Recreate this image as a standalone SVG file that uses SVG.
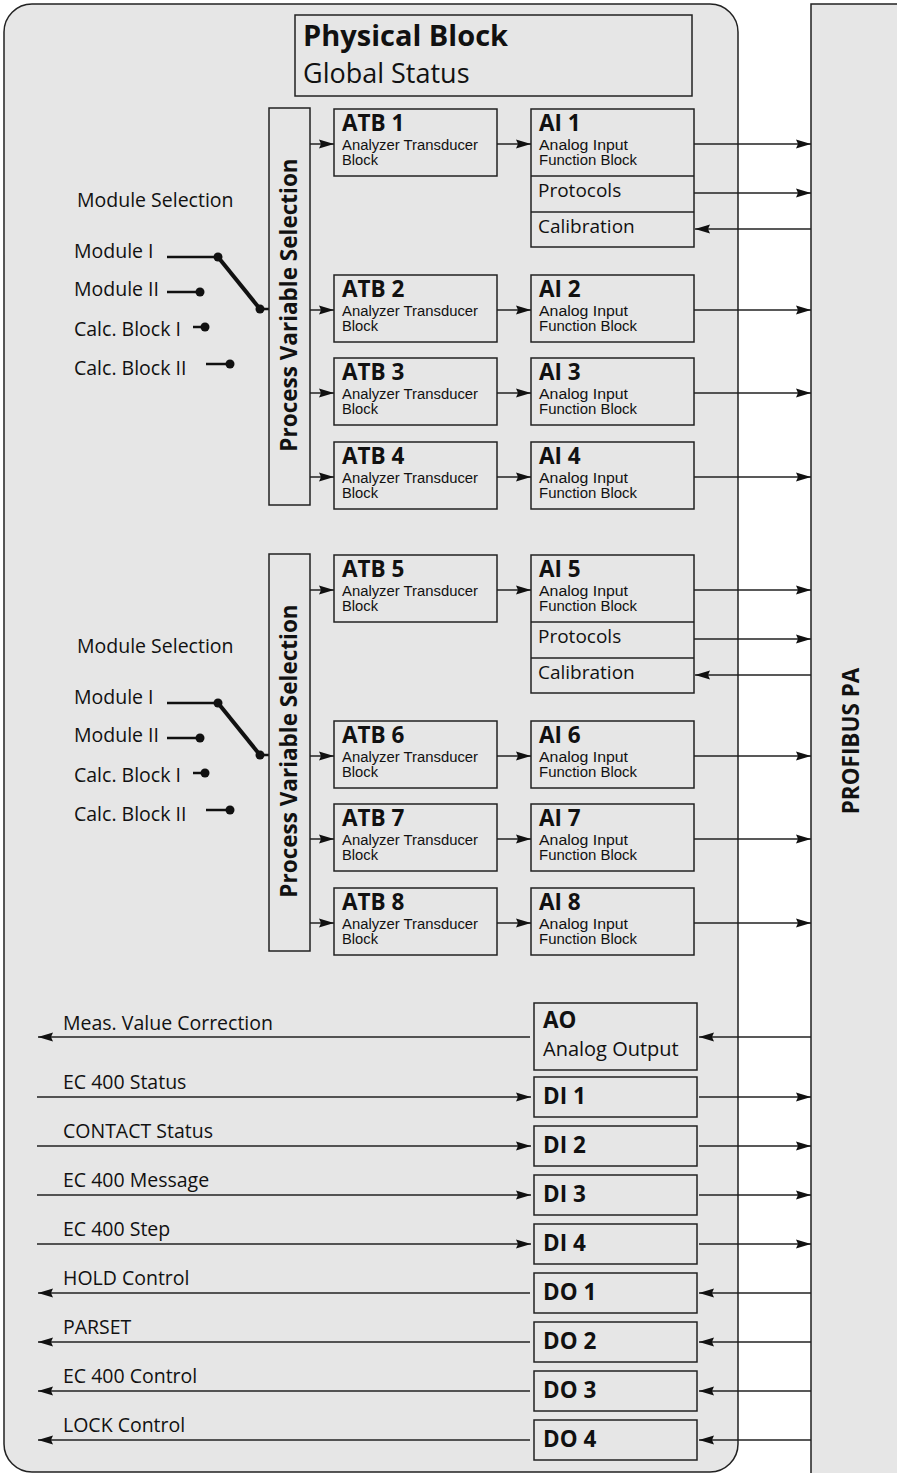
<svg xmlns="http://www.w3.org/2000/svg" width="897" height="1473" viewBox="0 0 897 1473">
<defs>
<marker id="ah" markerUnits="userSpaceOnUse" markerWidth="15" markerHeight="10" refX="15" refY="5" orient="auto">
<path d="M0,0.5 L15,5 L0,9.5 L2,5 z" fill="#111"/>
</marker>
<style>
.box{fill:#e6e6e6;stroke:#222;stroke-width:1.5}
.ln{stroke:#222;stroke-width:1.5;fill:none}
.arr{stroke:#222;stroke-width:1.5;fill:none;marker-end:url(#ah)}
.sw{stroke:#111;stroke-width:2.5;fill:none}
.dot{fill:#111}
text{font-family:"Open Sans","Noto Sans",sans-serif;fill:#111}
.t{font-size:22.5px;font-weight:bold}
.s{font-family:"Liberation Sans",Arial,sans-serif;font-size:14px}
.m{font-size:19.5px}
.p{font-size:19px}
.v{font-size:22.5px;font-weight:bold}
</style>
</defs>
<rect width="897" height="1473" fill="#fff"/>
<g id="profibus">
<rect x="811" y="4" width="100" height="1480" class="box"/>
<text class="v" transform="translate(859,741) rotate(-90)" text-anchor="middle">PROFIBUS PA</text>
</g>
<g id="device">
<path d="M32,4 H710 A28,28 0 0 1 738,32 V1444 A28,28 0 0 1 710,1472 H32 A28,28 0 0 1 4,1444 V32 A28,28 0 0 1 32,4 z" class="box"/>
</g>
<g id="physical-block">
<rect x="295" y="15" width="397" height="81" class="box"/>
<text x="303" y="46" style="font-size:29px;font-weight:bold">Physical Block</text>
<text x="303" y="83" style="font-size:27px">Global Status</text>
</g>

<g id="selector1">
<text x="77" y="207" class="m">Module Selection</text>
<text x="74" y="258" class="m">Module I</text>
<text x="74" y="296" class="m">Module II</text>
<text x="74" y="336" class="m">Calc. Block I</text>
<text x="74" y="375" class="m">Calc. Block II</text>
<line x1="167" y1="257" x2="218" y2="257" class="sw"/>
<line x1="218" y1="257" x2="260" y2="309" style="stroke:#111;stroke-width:4"/>
<line x1="260" y1="309" x2="269" y2="309" class="sw"/>
<circle cx="218" cy="257" r="4.5" class="dot"/>
<circle cx="260" cy="309" r="4.5" class="dot"/>
<line x1="167" y1="292" x2="200" y2="292" class="sw"/>
<circle cx="200" cy="292" r="4.5" class="dot"/>
<line x1="193" y1="327" x2="205" y2="327" class="sw"/>
<circle cx="205" cy="327" r="4.5" class="dot"/>
<line x1="206" y1="364" x2="230" y2="364" class="sw"/>
<circle cx="230" cy="364" r="4.5" class="dot"/>
</g>
<g id="pvs1">
<rect x="269" y="108" width="41" height="397" class="box"/>
<text class="v" transform="translate(297,305) rotate(-90)" text-anchor="middle">Process Variable Selection</text>
</g>
<g id="atb1"><rect x="334" y="109" width="163" height="67" class="box"/><text x="342" y="131" class="t">ATB 1</text><text x="342" y="149.8" class="s" textLength="136" lengthAdjust="spacingAndGlyphs">Analyzer Transducer</text><text x="342" y="165.4" class="s" textLength="36" lengthAdjust="spacingAndGlyphs">Block</text></g>
<g id="atb2"><rect x="334" y="275" width="163" height="67" class="box"/><text x="342" y="297" class="t">ATB 2</text><text x="342" y="315.8" class="s" textLength="136" lengthAdjust="spacingAndGlyphs">Analyzer Transducer</text><text x="342" y="331.4" class="s" textLength="36" lengthAdjust="spacingAndGlyphs">Block</text></g>
<g id="atb3"><rect x="334" y="358" width="163" height="67" class="box"/><text x="342" y="380" class="t">ATB 3</text><text x="342" y="398.8" class="s" textLength="136" lengthAdjust="spacingAndGlyphs">Analyzer Transducer</text><text x="342" y="414.4" class="s" textLength="36" lengthAdjust="spacingAndGlyphs">Block</text></g>
<g id="atb4"><rect x="334" y="442" width="163" height="67" class="box"/><text x="342" y="464" class="t">ATB 4</text><text x="342" y="482.8" class="s" textLength="136" lengthAdjust="spacingAndGlyphs">Analyzer Transducer</text><text x="342" y="498.4" class="s" textLength="36" lengthAdjust="spacingAndGlyphs">Block</text></g>
<g id="ai1"><rect x="531" y="109" width="163" height="138" class="box"/><line x1="531" y1="176" x2="694" y2="176" class="ln"/><line x1="531" y1="212" x2="694" y2="212" class="ln"/><text x="539" y="131" class="t">AI 1</text><text x="539" y="149.8" class="s" textLength="89" lengthAdjust="spacingAndGlyphs">Analog Input</text><text x="539" y="165.4" class="s" textLength="98" lengthAdjust="spacingAndGlyphs">Function Block</text><text x="538" y="197" class="p">Protocols</text><text x="538" y="233" class="p">Calibration</text></g>
<g id="ai2"><rect x="531" y="275" width="163" height="67" class="box"/><text x="539" y="297" class="t">AI 2</text><text x="539" y="315.8" class="s" textLength="89" lengthAdjust="spacingAndGlyphs">Analog Input</text><text x="539" y="331.4" class="s" textLength="98" lengthAdjust="spacingAndGlyphs">Function Block</text></g>
<g id="ai3"><rect x="531" y="358" width="163" height="67" class="box"/><text x="539" y="380" class="t">AI 3</text><text x="539" y="398.8" class="s" textLength="89" lengthAdjust="spacingAndGlyphs">Analog Input</text><text x="539" y="414.4" class="s" textLength="98" lengthAdjust="spacingAndGlyphs">Function Block</text></g>
<g id="ai4"><rect x="531" y="442" width="163" height="67" class="box"/><text x="539" y="464" class="t">AI 4</text><text x="539" y="482.8" class="s" textLength="89" lengthAdjust="spacingAndGlyphs">Analog Input</text><text x="539" y="498.4" class="s" textLength="98" lengthAdjust="spacingAndGlyphs">Function Block</text></g>

<g id="selector2">
<text x="77" y="653" class="m">Module Selection</text>
<text x="74" y="704" class="m">Module I</text>
<text x="74" y="742" class="m">Module II</text>
<text x="74" y="782" class="m">Calc. Block I</text>
<text x="74" y="821" class="m">Calc. Block II</text>
<line x1="167" y1="703" x2="218" y2="703" class="sw"/>
<line x1="218" y1="703" x2="260" y2="755" style="stroke:#111;stroke-width:4"/>
<line x1="260" y1="755" x2="269" y2="755" class="sw"/>
<circle cx="218" cy="703" r="4.5" class="dot"/>
<circle cx="260" cy="755" r="4.5" class="dot"/>
<line x1="167" y1="738" x2="200" y2="738" class="sw"/>
<circle cx="200" cy="738" r="4.5" class="dot"/>
<line x1="193" y1="773" x2="205" y2="773" class="sw"/>
<circle cx="205" cy="773" r="4.5" class="dot"/>
<line x1="206" y1="810" x2="230" y2="810" class="sw"/>
<circle cx="230" cy="810" r="4.5" class="dot"/>
</g>
<g id="pvs2">
<rect x="269" y="554" width="41" height="397" class="box"/>
<text class="v" transform="translate(297,751) rotate(-90)" text-anchor="middle">Process Variable Selection</text>
</g>
<g id="atb5"><rect x="334" y="555" width="163" height="67" class="box"/><text x="342" y="577" class="t">ATB 5</text><text x="342" y="595.8" class="s" textLength="136" lengthAdjust="spacingAndGlyphs">Analyzer Transducer</text><text x="342" y="611.4" class="s" textLength="36" lengthAdjust="spacingAndGlyphs">Block</text></g>
<g id="atb6"><rect x="334" y="721" width="163" height="67" class="box"/><text x="342" y="743" class="t">ATB 6</text><text x="342" y="761.8" class="s" textLength="136" lengthAdjust="spacingAndGlyphs">Analyzer Transducer</text><text x="342" y="777.4" class="s" textLength="36" lengthAdjust="spacingAndGlyphs">Block</text></g>
<g id="atb7"><rect x="334" y="804" width="163" height="67" class="box"/><text x="342" y="826" class="t">ATB 7</text><text x="342" y="844.8" class="s" textLength="136" lengthAdjust="spacingAndGlyphs">Analyzer Transducer</text><text x="342" y="860.4" class="s" textLength="36" lengthAdjust="spacingAndGlyphs">Block</text></g>
<g id="atb8"><rect x="334" y="888" width="163" height="67" class="box"/><text x="342" y="910" class="t">ATB 8</text><text x="342" y="928.8" class="s" textLength="136" lengthAdjust="spacingAndGlyphs">Analyzer Transducer</text><text x="342" y="944.4" class="s" textLength="36" lengthAdjust="spacingAndGlyphs">Block</text></g>
<g id="ai5"><rect x="531" y="555" width="163" height="138" class="box"/><line x1="531" y1="622" x2="694" y2="622" class="ln"/><line x1="531" y1="658" x2="694" y2="658" class="ln"/><text x="539" y="577" class="t">AI 5</text><text x="539" y="595.8" class="s" textLength="89" lengthAdjust="spacingAndGlyphs">Analog Input</text><text x="539" y="611.4" class="s" textLength="98" lengthAdjust="spacingAndGlyphs">Function Block</text><text x="538" y="643" class="p">Protocols</text><text x="538" y="679" class="p">Calibration</text></g>
<g id="ai6"><rect x="531" y="721" width="163" height="67" class="box"/><text x="539" y="743" class="t">AI 6</text><text x="539" y="761.8" class="s" textLength="89" lengthAdjust="spacingAndGlyphs">Analog Input</text><text x="539" y="777.4" class="s" textLength="98" lengthAdjust="spacingAndGlyphs">Function Block</text></g>
<g id="ai7"><rect x="531" y="804" width="163" height="67" class="box"/><text x="539" y="826" class="t">AI 7</text><text x="539" y="844.8" class="s" textLength="89" lengthAdjust="spacingAndGlyphs">Analog Input</text><text x="539" y="860.4" class="s" textLength="98" lengthAdjust="spacingAndGlyphs">Function Block</text></g>
<g id="ai8"><rect x="531" y="888" width="163" height="67" class="box"/><text x="539" y="910" class="t">AI 8</text><text x="539" y="928.8" class="s" textLength="89" lengthAdjust="spacingAndGlyphs">Analog Input</text><text x="539" y="944.4" class="s" textLength="98" lengthAdjust="spacingAndGlyphs">Function Block</text></g>

<g id="ao"><rect x="534" y="1003" width="163" height="67" class="box"/><text x="543" y="1028" class="t">AO</text><text x="543" y="1056" style="font-size:20px">Analog Output</text></g>
<g id="di1"><rect x="534" y="1077" width="163" height="40" class="box"/><text x="543" y="1104" class="t">DI 1</text></g>
<g id="di2"><rect x="534" y="1126" width="163" height="40" class="box"/><text x="543" y="1153" class="t">DI 2</text></g>
<g id="di3"><rect x="534" y="1175" width="163" height="40" class="box"/><text x="543" y="1202" class="t">DI 3</text></g>
<g id="di4"><rect x="534" y="1224" width="163" height="40" class="box"/><text x="543" y="1251" class="t">DI 4</text></g>
<g id="do1"><rect x="534" y="1273" width="163" height="40" class="box"/><text x="543" y="1300" class="t">DO 1</text></g>
<g id="do2"><rect x="534" y="1322" width="163" height="40" class="box"/><text x="543" y="1349" class="t">DO 2</text></g>
<g id="do3"><rect x="534" y="1371" width="163" height="40" class="box"/><text x="543" y="1398" class="t">DO 3</text></g>
<g id="do4"><rect x="534" y="1420" width="163" height="40" class="box"/><text x="543" y="1447" class="t">DO 4</text></g>

<g id="labels">
<text x="63" y="1030" class="m">Meas. Value Correction</text>
<text x="63" y="1089" class="m">EC 400 Status</text>
<text x="63" y="1138" class="m">CONTACT Status</text>
<text x="63" y="1187" class="m">EC 400 Message</text>
<text x="63" y="1236" class="m">EC 400 Step</text>
<text x="63" y="1285" class="m">HOLD Control</text>
<text x="63" y="1334" class="m">PARSET</text>
<text x="63" y="1383" class="m">EC 400 Control</text>
<text x="63" y="1432" class="m">LOCK Control</text>
</g>

<g id="connectors">
<line x1="310" y1="144" x2="334" y2="144" class="arr"/>
<line x1="310" y1="310" x2="334" y2="310" class="arr"/>
<line x1="310" y1="393" x2="334" y2="393" class="arr"/>
<line x1="310" y1="477" x2="334" y2="477" class="arr"/>
<line x1="497" y1="144" x2="531" y2="144" class="arr"/>
<line x1="497" y1="310" x2="531" y2="310" class="arr"/>
<line x1="497" y1="393" x2="531" y2="393" class="arr"/>
<line x1="497" y1="477" x2="531" y2="477" class="arr"/>
<line x1="694" y1="144" x2="811" y2="144" class="arr"/>
<line x1="694" y1="193" x2="811" y2="193" class="arr"/>
<line x1="811" y1="229" x2="695" y2="229" class="arr"/>
<line x1="694" y1="310" x2="811" y2="310" class="arr"/>
<line x1="694" y1="393" x2="811" y2="393" class="arr"/>
<line x1="694" y1="477" x2="811" y2="477" class="arr"/>

<line x1="310" y1="590" x2="334" y2="590" class="arr"/>
<line x1="310" y1="756" x2="334" y2="756" class="arr"/>
<line x1="310" y1="839" x2="334" y2="839" class="arr"/>
<line x1="310" y1="923" x2="334" y2="923" class="arr"/>
<line x1="497" y1="590" x2="531" y2="590" class="arr"/>
<line x1="497" y1="756" x2="531" y2="756" class="arr"/>
<line x1="497" y1="839" x2="531" y2="839" class="arr"/>
<line x1="497" y1="923" x2="531" y2="923" class="arr"/>
<line x1="694" y1="590" x2="811" y2="590" class="arr"/>
<line x1="694" y1="639" x2="811" y2="639" class="arr"/>
<line x1="811" y1="675" x2="695" y2="675" class="arr"/>
<line x1="694" y1="756" x2="811" y2="756" class="arr"/>
<line x1="694" y1="839" x2="811" y2="839" class="arr"/>
<line x1="694" y1="923" x2="811" y2="923" class="arr"/>

<line x1="811" y1="1037" x2="699" y2="1037" class="arr"/>
<line x1="530" y1="1037" x2="38" y2="1037" class="arr"/>
<line x1="37" y1="1097" x2="531" y2="1097" class="arr"/>
<line x1="699" y1="1097" x2="811" y2="1097" class="arr"/>
<line x1="37" y1="1146" x2="531" y2="1146" class="arr"/>
<line x1="699" y1="1146" x2="811" y2="1146" class="arr"/>
<line x1="37" y1="1195" x2="531" y2="1195" class="arr"/>
<line x1="699" y1="1195" x2="811" y2="1195" class="arr"/>
<line x1="37" y1="1244" x2="531" y2="1244" class="arr"/>
<line x1="699" y1="1244" x2="811" y2="1244" class="arr"/>
<line x1="811" y1="1293" x2="699" y2="1293" class="arr"/>
<line x1="530" y1="1293" x2="38" y2="1293" class="arr"/>
<line x1="811" y1="1342" x2="699" y2="1342" class="arr"/>
<line x1="530" y1="1342" x2="38" y2="1342" class="arr"/>
<line x1="811" y1="1391" x2="699" y2="1391" class="arr"/>
<line x1="530" y1="1391" x2="38" y2="1391" class="arr"/>
<line x1="811" y1="1440" x2="699" y2="1440" class="arr"/>
<line x1="530" y1="1440" x2="38" y2="1440" class="arr"/>
</g>
</svg>
